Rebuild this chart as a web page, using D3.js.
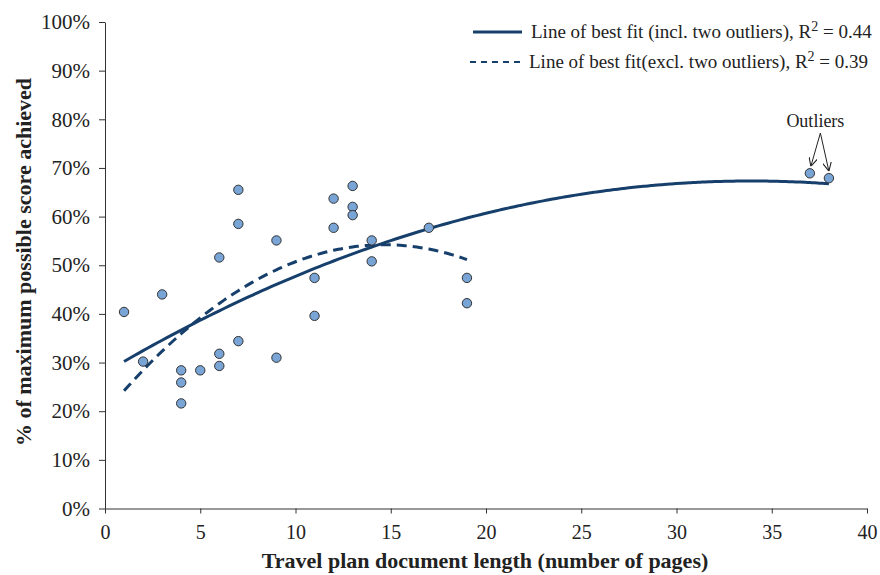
<!DOCTYPE html>
<html>
<head>
<meta charset="utf-8">
<script src="https://cdn.jsdelivr.net/npm/d3@7"></script>
<style>
  body { margin: 0; background: #fff; }
  svg text { font-family: "Liberation Serif", "Times New Roman", serif; fill: #222; }
</style>
</head>
<body>
<div id="chart"></div>
<script>
// document length (pages) and score (%) for each travel plan
var pages  = [1, 2, 3, 4, 4, 4, 5, 6, 6, 6, 7, 7, 7, 9, 9, 11, 11, 12, 12, 13, 13, 13, 14, 14, 17, 19, 19];
var scores = [40.4, 30.2, 44.0, 28.4, 25.9, 21.6, 28.4, 51.6, 31.8, 29.3, 65.5, 58.5, 34.4, 55.1, 31.0,
              47.4, 39.6, 63.7, 57.7, 66.3, 62.0, 60.3, 55.1, 50.8, 57.7, 47.4, 42.2];
// the two outliers
var outlierPages  = [37, 38];
var outlierScores = [68.9, 67.9];

var xTicks = [0, 5, 10, 15, 20, 25, 30, 35, 40];
var yTicks = [0, 10, 20, 30, 40, 50, 60, 70, 80, 90, 100];
var legendLabels = [
  ["Line of best fit (incl. two outliers), R", " = 0.44"],
  ["Line of best fit(excl. two outliers), R", " = 0.39"]
];

var width = 880, height = 575;
var navy = "#173f6c";

var svg = d3.select("#chart").append("svg")
  .attr("width", width)
  .attr("height", height);

var x = d3.scaleLinear().domain([0, 40]).range([105, 867]);
var y = d3.scaleLinear().domain([0, 100]).range([508.5, 22]);

// axes
var xAxis = svg.append("g")
  .attr("transform", "translate(0," + y(0) + ")")
  .call(d3.axisBottom(x).tickValues(xTicks).tickSize(5).tickSizeOuter(0).tickFormat(d3.format("d")));
xAxis.selectAll("text").attr("dy", 0).attr("y", 30).style("font-size", "20px");

var yAxis = svg.append("g")
  .attr("transform", "translate(" + x(0) + ",0)")
  .call(d3.axisLeft(y).tickValues(yTicks).tickSize(6).tickSizeOuter(0).tickPadding(9).tickFormat(d => d + "%"));
yAxis.selectAll("text").style("font-size", "21px");

svg.selectAll(".domain, .tick line").attr("stroke", "#333");

// axis titles
svg.append("text")
  .attr("x", 485)
  .attr("y", 568)
  .attr("text-anchor", "middle")
  .style("font-size", "22px")
  .style("font-weight", "bold")
  .text("Travel plan document length (number of pages)");

svg.append("text")
  .attr("transform", "translate(31,262) rotate(-90)")
  .attr("text-anchor", "middle")
  .style("font-size", "22px")
  .style("font-weight", "bold")
  .text("% of maximum possible score achieved");

// least squares quadratic fit
function quadFit(xs, ys) {
  var s = [0, 0, 0, 0, 0], t = [0, 0, 0];
  xs.forEach((xi, i) => {
    for (var k = 0; k < 5; k++) s[k] += Math.pow(xi, k);
    for (var k = 0; k < 3; k++) t[k] += ys[i] * Math.pow(xi, k);
  });
  var m = [[s[0], s[1], s[2], t[0]], [s[1], s[2], s[3], t[1]], [s[2], s[3], s[4], t[2]]];
  for (var i = 0; i < 3; i++) {
    for (var j = i + 1; j < 3; j++) {
      var f = m[j][i] / m[i][i];
      for (var k = i; k < 4; k++) m[j][k] -= f * m[i][k];
    }
  }
  var c = [0, 0, 0];
  for (var i = 2; i >= 0; i--) {
    var v = m[i][3];
    for (var k = i + 1; k < 3; k++) v -= m[i][k] * c[k];
    c[i] = v / m[i][i];
  }
  return c;
}

var allPages = pages.concat(outlierPages);
var allScores = scores.concat(outlierScores);
var cIncl = quadFit(allPages, allScores);
var cExcl = quadFit(pages, scores);

function curve(c, x0, x1) {
  return d3.range(x0, x1 + 0.001, 0.25).map(v => [v, c[0] + c[1] * v + c[2] * v * v]);
}

var line = d3.line().x(d => x(d[0])).y(d => y(d[1])).curve(d3.curveMonotoneX);

svg.append("path")
  .datum(curve(cIncl, d3.min(allPages), d3.max(allPages)))
  .attr("fill", "none")
  .attr("stroke", navy)
  .attr("stroke-width", 3)
  .attr("d", line);

svg.append("path")
  .datum(curve(cExcl, d3.min(pages), d3.max(pages)))
  .attr("fill", "none")
  .attr("stroke", navy)
  .attr("stroke-width", 3)
  .attr("stroke-dasharray", "10,6")
  .attr("d", line);

// points
svg.append("g").selectAll("circle")
  .data(allPages.map((p, i) => [p, allScores[i]]))
  .join("circle")
  .attr("cx", d => x(d[0]))
  .attr("cy", d => y(d[1]))
  .attr("r", 4.7)
  .attr("fill", "#78a4d6")
  .attr("stroke", "#333")
  .attr("stroke-width", 1);

// outlier annotation
svg.append("defs").append("marker")
  .attr("id", "arrow")
  .attr("viewBox", "0 0 10 10")
  .attr("refX", 10).attr("refY", 5)
  .attr("markerWidth", 9).attr("markerHeight", 9)
  .attr("orient", "auto")
  .append("path")
  .attr("d", "M0,0 L10,5 L0,10")
  .attr("fill", "none")
  .attr("stroke", "#222")
  .attr("stroke-width", 1.2);

var annX = (x(outlierPages[0]) + x(outlierPages[1])) / 2;
svg.append("text")
  .attr("x", annX - 4)
  .attr("y", 127)
  .attr("text-anchor", "middle")
  .style("font-size", "18px")
  .text("Outliers");

outlierPages.forEach((p, i) => {
  svg.append("line")
    .attr("x1", annX + 1).attr("y1", 133)
    .attr("x2", x(p) + (i === 0 ? 1 : 0)).attr("y2", y(outlierScores[i]) - 7)
    .attr("stroke", "#222")
    .attr("stroke-width", 1)
    .attr("marker-end", "url(#arrow)");
});

// legend
legendLabels.forEach((lab, i) => {
  var ly = 32 + i * 30;
  svg.append("line")
    .attr("x1", i === 0 ? 473 : 470).attr("x2", 522)
    .attr("y1", ly).attr("y2", ly)
    .attr("stroke", navy)
    .attr("stroke-width", i === 0 ? 3 : 2)
    .attr("stroke-dasharray", i === 0 ? null : "6,5");
  var t = svg.append("text")
    .attr("x", i === 0 ? 531 : 529)
    .attr("y", ly + 6)
    .style("font-size", "19px");
  t.append("tspan").text(lab[0]);
  t.append("tspan").attr("dy", -7).style("font-size", "14px").text("2");
  t.append("tspan").attr("dy", 7).text(lab[1]);
});
</script>
</body>
</html>
